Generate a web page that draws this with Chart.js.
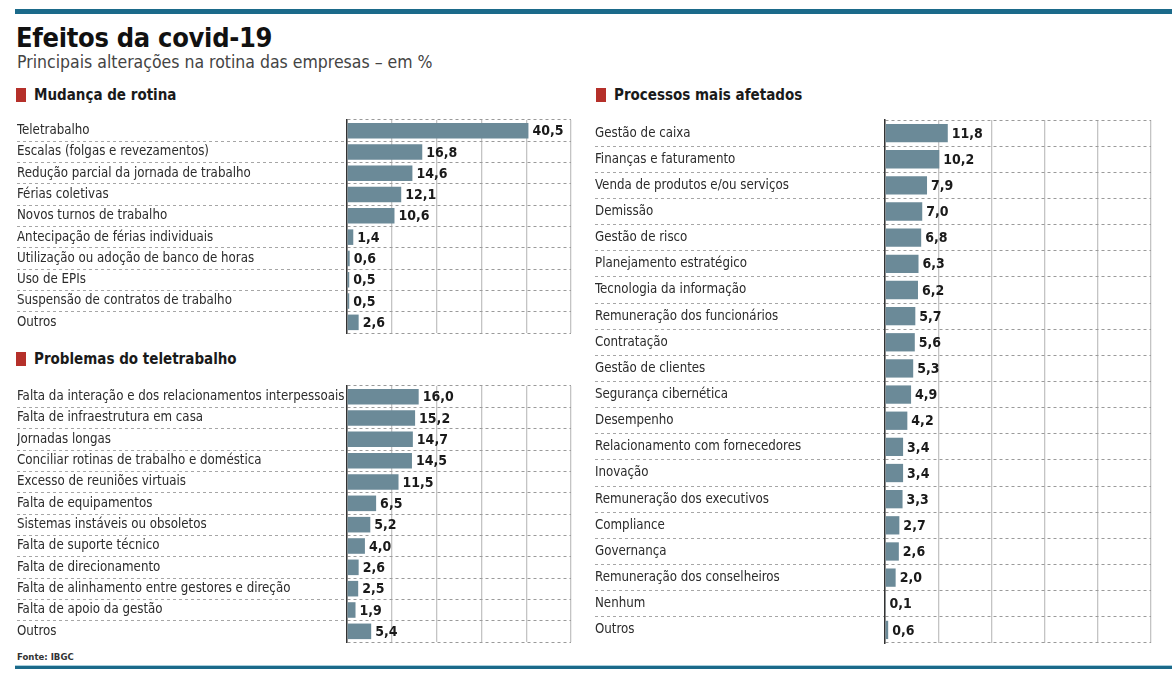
<!DOCTYPE html>
<html>
<head>
<meta charset="utf-8">
<script src="https://cdn.jsdelivr.net/npm/chart.js@4.4.1/dist/chart.umd.min.js"></script>
<style>
  body { margin: 0; background: #fff; width: 1172px; height: 683px; position: relative; overflow: hidden;
         font-family: "DejaVu Sans Condensed", "Liberation Sans Narrow", sans-serif; color: #222; }
  .abs { position: absolute; }
  .rule { position: absolute; left: 15px; right: 0; background: #1b6a8a; }
  h1 { position: absolute; left: 16px; top: 22px; margin: 0; font-size: 27px; font-weight: bold; color: #111; letter-spacing: -0.3px; line-height: normal; }
  .sub { left: 17px; top: 52px; font-size: 17.5px; color: #444; }
  .sec { font-size: 15px; font-weight: bold; color: #1a1a1a; }
  .sec span { display: inline-block; width: 10px; height: 14px; background: #b5302a; margin-right: 8px; vertical-align: -2px; }
  .src { left: 17px; top: 651px; font-size: 9.5px; font-weight: bold; color: #333; }
  canvas { position: absolute; }
</style>
</head>
<body>
<div class="rule" style="top:9px;height:5px"></div>
<h1>Efeitos da covid-19</h1>
<div class="abs sub">Principais alterações na rotina das empresas – em %</div>
<div class="abs sec" style="left:16px;top:86px"><span></span>Mudança de rotina</div>
<div class="abs sec" style="left:16px;top:350px"><span></span>Problemas do teletrabalho</div>
<div class="abs sec" style="left:596px;top:86px"><span></span>Processos mais afetados</div>
<div class="abs src">Fonte: IBGC</div>
<div class="rule" style="top:665px;height:1px;background:#a9cfdd"></div>
<div class="rule" style="top:666px;height:3px"></div>

<canvas id="rotina"></canvas>
<canvas id="tele"></canvas>
<canvas id="processos"></canvas>

<script>
// dados (IBGC) - valores em %
var rotinaLabels = ["Teletrabalho", "Escalas (folgas e revezamentos)", "Redução parcial da jornada de trabalho",
    "Férias coletivas", "Novos turnos de trabalho", "Antecipação de férias individuais",
    "Utilização ou adoção de banco de horas", "Uso de EPIs", "Suspensão de contratos de trabalho", "Outros"];
var rotinaValues = [40.5, 16.8, 14.6, 12.1, 10.6, 1.4, 0.6, 0.5, 0.5, 2.6];

var teleLabels = ["Falta da interação e dos relacionamentos interpessoais", "Falta de infraestrutura em casa",
    "Jornadas longas", "Conciliar rotinas de trabalho e doméstica", "Excesso de reuniões virtuais",
    "Falta de equipamentos", "Sistemas instáveis ou obsoletos", "Falta de suporte técnico",
    "Falta de direcionamento", "Falta de alinhamento entre gestores e direção", "Falta de apoio da gestão", "Outros"];
var teleValues = [16.0, 15.2, 14.7, 14.5, 11.5, 6.5, 5.2, 4.0, 2.6, 2.5, 1.9, 5.4];

var processosLabels = ["Gestão de caixa", "Finanças e faturamento", "Venda de produtos e/ou serviços", "Demissão",
    "Gestão de risco", "Planejamento estratégico", "Tecnologia da informação", "Remuneração dos funcionários",
    "Contratação", "Gestão de clientes", "Segurança cibernética", "Desempenho", "Relacionamento com fornecedores",
    "Inovação", "Remuneração dos executivos", "Compliance", "Governança", "Remuneração dos conselheiros",
    "Nenhum", "Outros"];
var processosValues = [11.8, 10.2, 7.9, 7.0, 6.8, 6.3, 6.2, 5.7, 5.6, 5.3, 4.9, 4.2, 3.4, 3.4, 3.3, 2.7, 2.6, 2.0, 0.1, 0.6];

var axisMax = 50, axisStep = 10;
var FONT = '"DejaVu Sans Condensed", "Liberation Sans Narrow", sans-serif';

// escreve o valor depois de cada barra
var valueLabels = {
    id: "valueLabels",
    afterDatasetsDraw: function (chart) {
        var ctx = chart.ctx;
        var meta = chart.getDatasetMeta(0);
        ctx.save();
        ctx.font = "bold 14px " + FONT;
        ctx.fillStyle = "#1a1a1a";
        ctx.textAlign = "left";
        ctx.textBaseline = "middle";
        meta.data.forEach(function (bar, i) {
            var v = chart.data.datasets[0].data[i];
            ctx.fillText(v.toFixed(1).replace(".", ","), bar.x + 4, bar.y + 1);
        });
        ctx.restore();
    }
};

// box = posição da área do gráfico: left (rótulos), axis (eixo), right, top, bottom
function makeChart(id, labels, values, box, barPct) {
    var pad = 3;
    var cv = document.getElementById(id);
    var w = box.right - box.left + pad;
    var h = box.bottom - box.top + 2 * pad;
    cv.style.left = box.left + "px";
    cv.style.top = (box.top - pad) + "px";
    cv.style.width = w + "px";
    cv.style.height = h + "px";
    cv.width = w; cv.height = h;

    return new Chart(cv, {
        type: "bar",
        data: {
            labels: labels,
            datasets: [{
                data: values,
                backgroundColor: "#6b8a98",
                categoryPercentage: 1,
                barPercentage: barPct
            }]
        },
        options: {
            indexAxis: "y",
            responsive: false,
            animation: false,
            layout: { padding: { left: 0, right: pad, top: pad, bottom: pad } },
            plugins: { legend: { display: false }, tooltip: { enabled: false } },
            scales: {
                x: {
                    min: 0, max: axisMax,
                    ticks: { display: false, stepSize: axisStep },
                    grid: { color: "#c4c4c4", lineWidth: 1.3, drawTicks: false, tickLength: 0 },
                    border: { display: false }
                },
                y: {
                    afterFit: function (scale) {
                        scale.width = box.axis - box.left;
                        scale.paddingTop = 0;
                        scale.paddingBottom = 0;
                    },
                    ticks: {
                        autoSkip: false, crossAlign: "far", padding: 0, color: "#2b2b2b",
                        font: { family: FONT, size: 13.2 }
                    },
                    grid: {
                        color: "#9a9a9a", lineWidth: 1,
                        tickLength: box.axis - box.left,
                        tickBorderDash: [3, 3],
                        // linhas tracejadas só entre as linhas de rótulos
                        tickColor: function (c) {
                            return (c.type !== "tick" || c.index === 0) ? "rgba(0,0,0,0)" : "#a6a6a6";
                        }
                    },
                    border: { display: true, color: "#333", width: 1.5, dash: [3, 3] }
                }
            }
        },
        plugins: [valueLabels]
    });
}

makeChart("rotina", rotinaLabels, rotinaValues, { left: 17, axis: 347, right: 571, top: 120, bottom: 333 }, 0.73);
makeChart("tele", teleLabels, teleValues, { left: 17, axis: 347, right: 571, top: 386, bottom: 642 }, 0.73);
makeChart("processos", processosLabels, processosValues, { left: 595, axis: 885, right: 1151, top: 120, bottom: 643 }, 0.7);
</script>
</body>
</html>
